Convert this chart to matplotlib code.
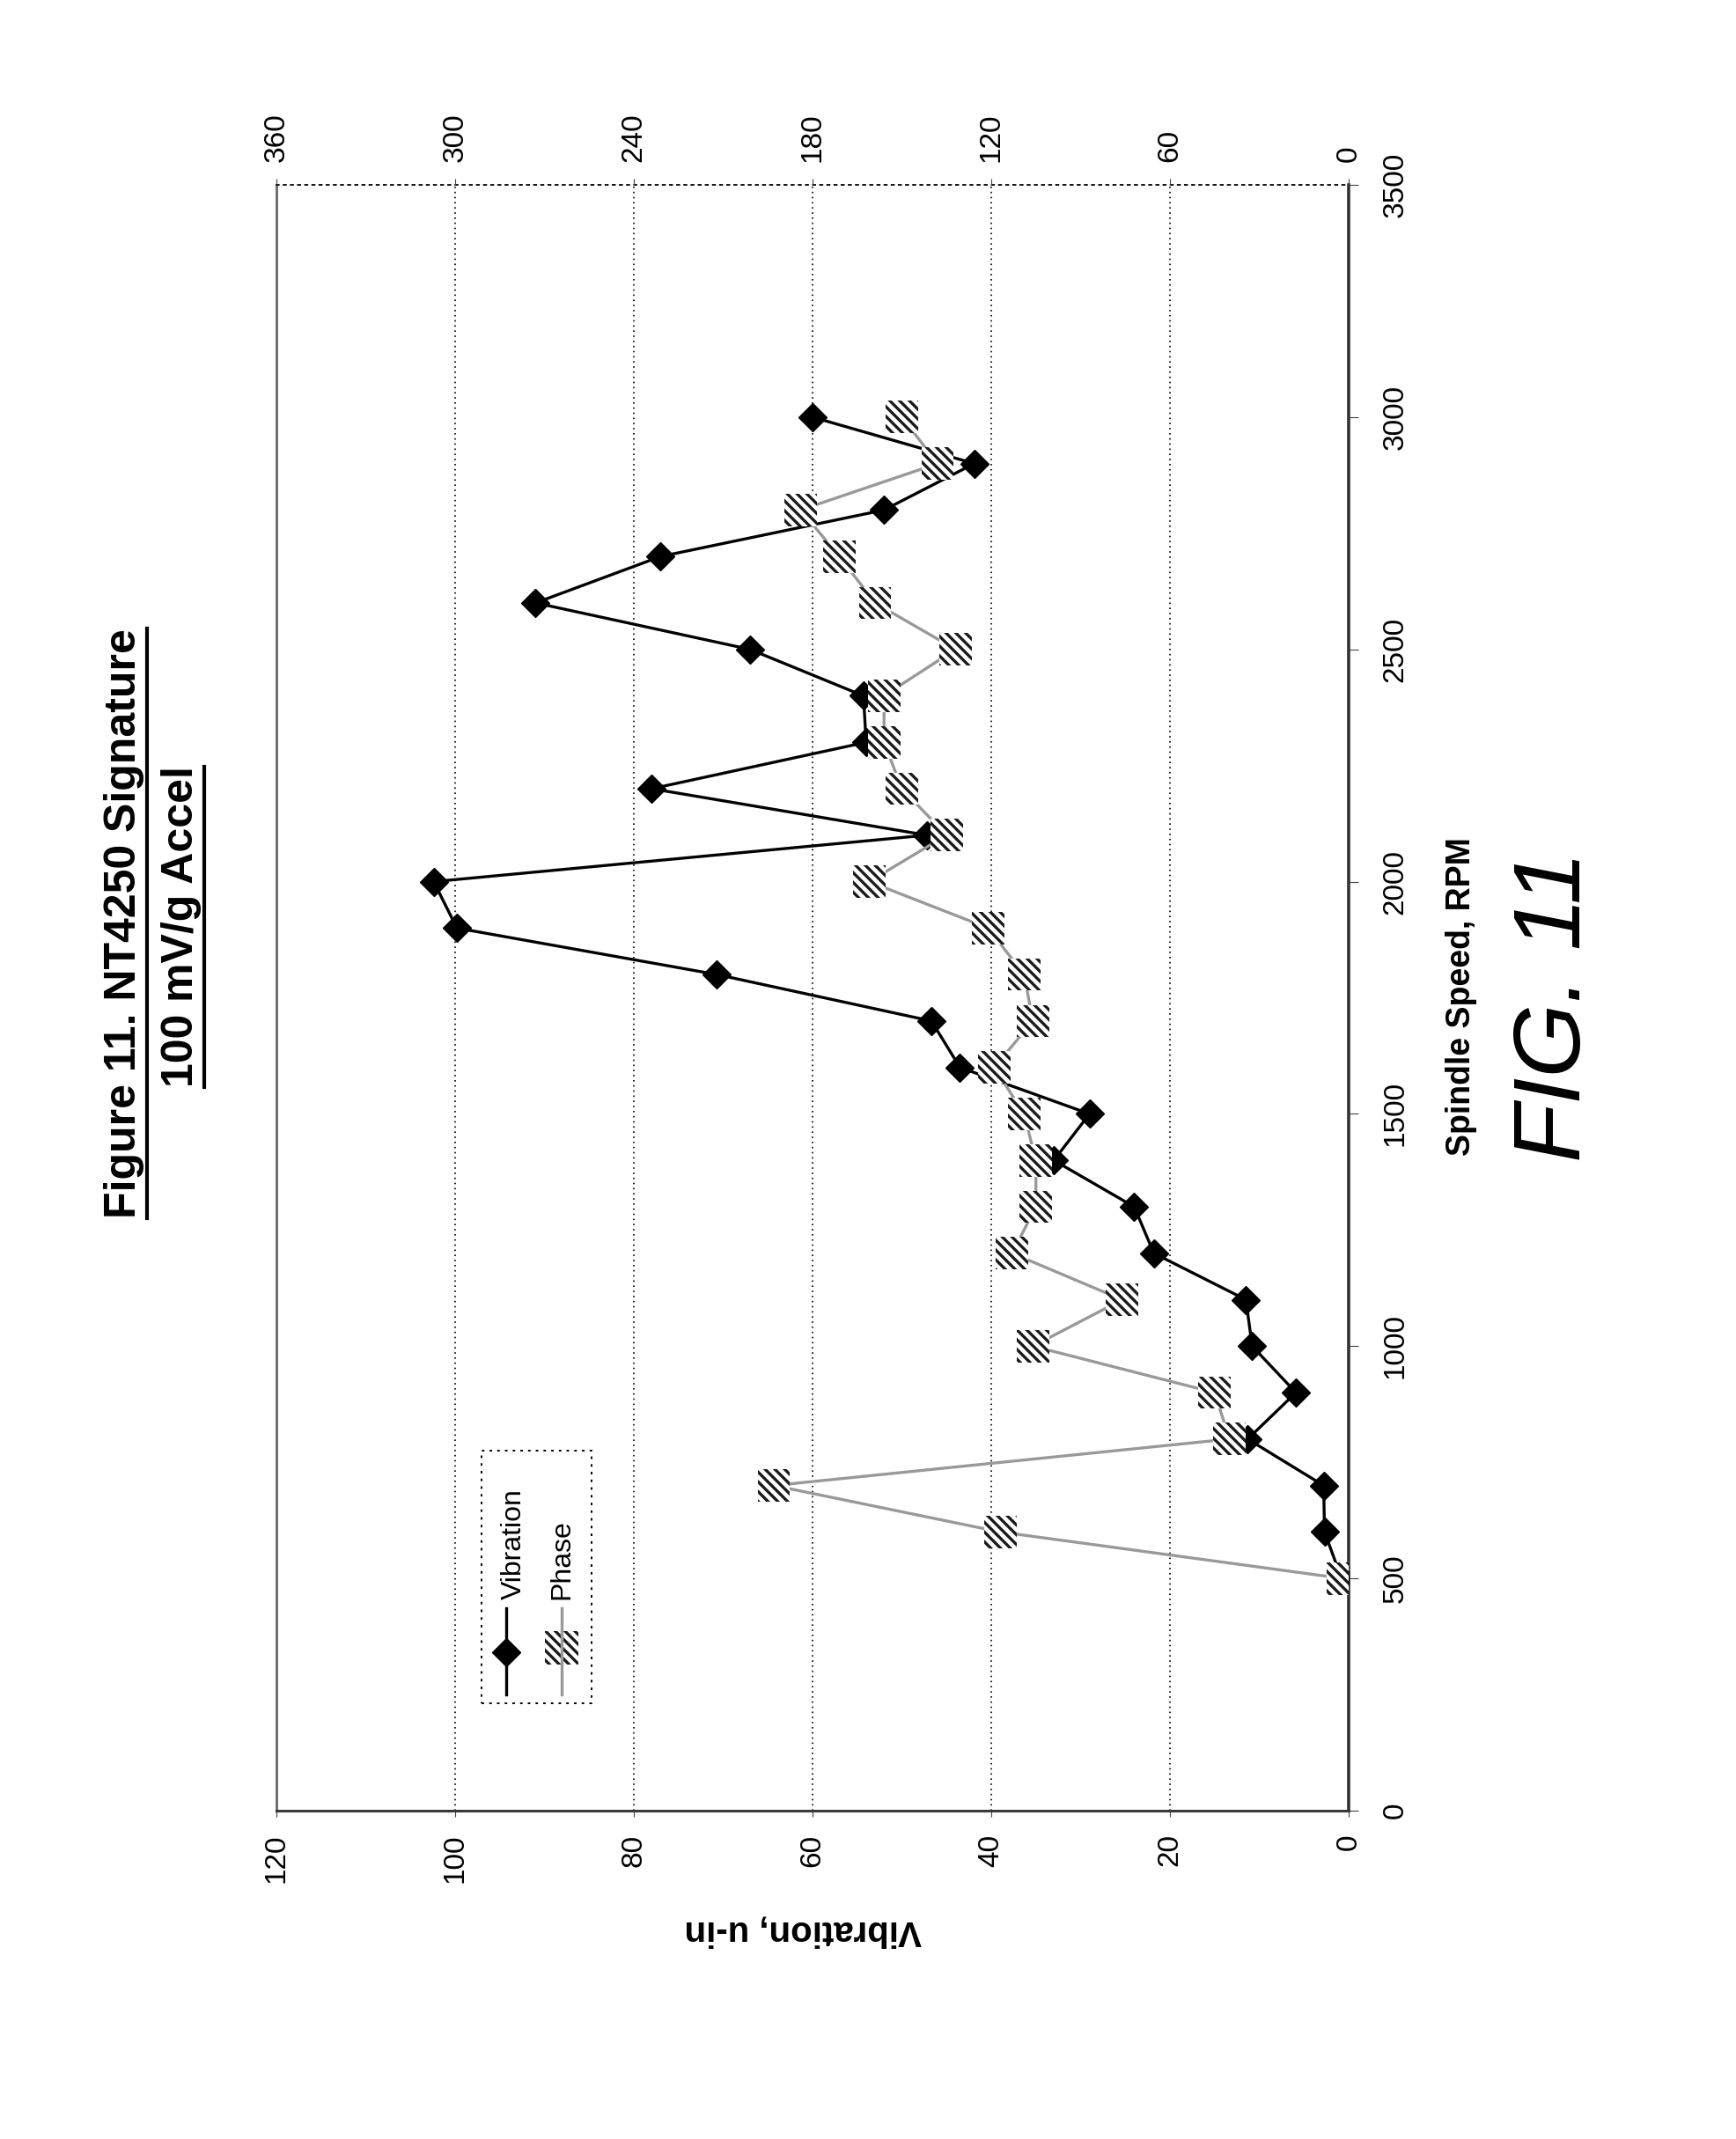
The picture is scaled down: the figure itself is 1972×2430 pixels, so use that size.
import matplotlib
matplotlib.use("Agg")
import matplotlib.pyplot as plt
from matplotlib.lines import Line2D
from matplotlib.patches import Rectangle

plt.rcParams['font.family'] = ['Liberation Sans', 'DejaVu Sans']
plt.rcParams['hatch.linewidth'] = 2.4

W, H = 1972, 2430

# spindle speed of each reading (RPM)
speed = [500, 600, 700, 800, 900, 1000, 1100, 1200, 1300, 1400, 1500, 1600, 1700,
         1800, 1900, 2000, 2100, 2200, 2300, 2400, 2500, 2600, 2700, 2800, 2900, 3000]
# vibration amplitude, u-in
vibration = [0.8, 2.7, 2.8, 11.3, 5.9, 10.8, 11.5, 21.8, 24, 33, 29, 43.5, 46.7,
             70.7, 99.8, 102.4, 47.2, 78, 54, 54.3, 67, 91, 77, 52, 41.9, 60]
# phase, degrees
phase = [2, 117, 193, 40, 45, 106, 76, 113, 105, 105, 109, 119, 106,
         109, 121, 161, 135, 150, 156, 156, 132, 159, 171, 184, 138, 150]

vib_ticks = [0, 20, 40, 60, 80, 100, 120]
phase_ticks = [0, 60, 120, 180, 240, 300, 360]
speed_ticks = [0, 500, 1000, 1500, 2000, 2500, 3000, 3500]

HATCH = '\\\\\\'   # three backslashes -> fine diagonal stripes


def fx(x):
    return x / W


def fy(y):
    return 1 - y / H


fig = plt.figure(figsize=(W / 100, H / 100), dpi=100)

# the chart is printed turned on its side: speed runs upwards, vibration leftwards
ax = fig.add_axes([fx(314), fy(2057), (1532 - 314) / W, (2057 - 210) / H])
ax.set_xlim(120, 0)
ax.set_ylim(0, 3500)
ax.grid(axis='x', color='black', lw=1.2, ls=(0, (1, 2.5)))
ax.set_axisbelow(True)
ax.plot(vibration, speed, color='black', lw=2.4, marker='D', ms=16, zorder=3)

ax.set_xticks(vib_ticks)
ax.set_xticklabels([str(v) for v in vib_ticks], rotation=90)
ax.yaxis.tick_right()
ax.set_yticks(speed_ticks)
ax.set_yticklabels([str(v) for v in speed_ticks], rotation=90, va='center')
ax.tick_params(axis='x', length=5, pad=14, labelsize=24, color='#444')
ax.tick_params(axis='y', length=8, pad=19, labelsize=24, color='#444')

ax.spines['right'].set(color='#333333', lw=2.6)
ax.spines['bottom'].set(color='#3a3a3a', lw=2.2)
ax.spines['left'].set(color='#666666', lw=2.0)
ax.spines['top'].set(color='black', lw=1.3, ls=(0, (1.5, 3)))

# phase on the secondary axis
ax2 = ax.twiny()
ax2.set_xlim(360, 0)
ax2.set_ylim(0, 3500)
ax2.plot(phase, speed, color='#999999', lw=2.4, zorder=2)
ax2.scatter(phase, speed, marker='s', s=700, facecolor='white', edgecolor='#1a1a1a',
            linewidth=0, hatch=HATCH, zorder=3)
ax2.set_xticks(phase_ticks)
ax2.set_xticklabels([str(v) for v in phase_ticks], rotation=90)
ax2.tick_params(axis='x', length=5, pad=14, labelsize=24, color='#444')
for s in ax2.spines.values():
    s.set_visible(False)

# axis titles
fig.text(fx(1660), fy(1132), 'Spindle Speed, RPM', rotation=90, ha='center', va='center',
         fontsize=27, fontweight='bold')
fig.text(fx(912), fy(2193), 'Vibration, u-in', rotation=180, ha='center', va='center',
         fontsize=29, fontweight='bold')

# legend, drawn by hand since it is turned too
fig.add_artist(Rectangle((fx(547), fy(1935)), (672 - 547) / W, (1935 - 1648) / H,
                         transform=fig.transFigure, fill=False, ec='black', lw=1.4,
                         ls=(0, (1.5, 3))))
fig.add_artist(Line2D([fx(575), fx(575)], [fy(1827), fy(1925)], transform=fig.transFigure,
                      color='black', lw=2.4))
fig.add_artist(Line2D([fx(575)], [fy(1877)], transform=fig.transFigure, color='black',
                      marker='D', ms=16))
fig.text(fx(584), fy(1817), 'Vibration', rotation=90, ha='center', va='bottom', fontsize=23)
fig.add_artist(Line2D([fx(638), fx(638)], [fy(1827), fy(1925)], transform=fig.transFigure,
                      color='#999999', lw=2.4))
fig.add_artist(Rectangle((fx(638 - 19), fy(1872 + 19)), 38 / W, 38 / H,
                         transform=fig.transFigure, facecolor='white', edgecolor='#1a1a1a',
                         lw=0, hatch=HATCH))
fig.text(fx(638), fy(1817), 'Phase', rotation=90, ha='center', va='bottom', fontsize=23)

# title, underlined
t1 = fig.text(fx(141), fy(1049), 'Figure 11. NT4250 Signature', rotation=90,
              ha='center', va='center', fontsize=36, fontweight='bold')
t2 = fig.text(fx(206), fy(1053), '100 mV/g Accel', rotation=90,
              ha='center', va='center', fontsize=36, fontweight='bold')

fig.text(fx(1767), fy(1143), 'FIG. 11', rotation=90, ha='center', va='center',
         fontsize=78, style='italic')

fig.canvas.draw()
for t in (t1, t2):
    bb = t.get_window_extent()
    fig.add_artist(Line2D([(bb.x1 + 3) / W] * 2, [bb.y0 / H, bb.y1 / H],
                          transform=fig.transFigure, color='black', lw=3))

fig.savefig('out.png', dpi=100)
